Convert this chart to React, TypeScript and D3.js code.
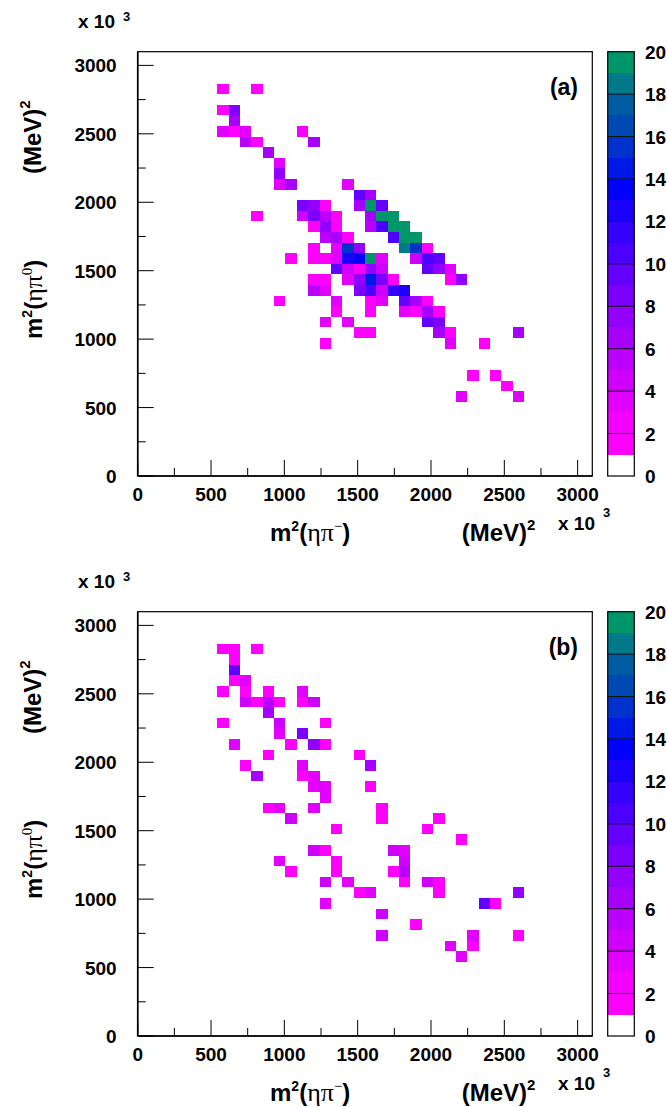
import React from 'react';
import * as d3 from 'd3';

// ---- axis definitions (units: 10^3 MeV^2) ----
const AXIS_MAX = 3100;
const BIN_WIDTH = 77.5; // 40 bins over 0..3100
const Z_MAX = 20;
const MAJOR_TICKS = [0, 500, 1000, 1500, 2000, 2500, 3000];
const MINOR_TICKS = [250, 750, 1250, 1750, 2250, 2750];
const Z_TICKS = [0, 2, 4, 6, 8, 10, 12, 14, 16, 18, 20];
const Z_LINES = [2, 4, 6, 8, 10, 12, 14, 16, 18];

// palette bands 0..19 (band 0 = empty)
const BAND_COLORS = [
  '#ffffff', '#ff00ff', '#f400ff', '#e200ff', '#d000ff',
  '#bc00ff', '#a800ff', '#9400ff', '#7c00ff', '#6400ff',
  '#4c00ff', '#3400ff', '#1c00ff', '#0000ff', '#0018e6',
  '#0032cc', '#0048b4', '#005ca0', '#007a8a', '#00966a',
];

// ---- histogram contents: [x bin, y bin, entries] ----
const cellsA: [number, number, number][] = [
  [7, 36, 1], [10, 36, 1],
  [7, 34, 1], [8, 34, 8],
  [8, 33, 6],
  [7, 32, 3], [8, 32, 1], [9, 32, 3], [14, 32, 2],
  [9, 31, 5], [10, 31, 1], [15, 31, 6],
  [11, 30, 6],
  [12, 29, 3],
  [12, 28, 7],
  [12, 27, 3], [13, 27, 6], [18, 27, 3],
  [19, 26, 9], [20, 26, 6],
  [14, 25, 8], [15, 25, 7], [16, 25, 1], [19, 25, 6], [20, 25, 20], [21, 25, 9],
  [10, 24, 1], [14, 24, 4], [15, 24, 8], [16, 24, 5], [17, 24, 1], [20, 24, 6], [21, 24, 20], [22, 24, 20],
  [15, 23, 1], [16, 23, 7], [17, 23, 1], [20, 23, 5], [21, 23, 10], [22, 23, 20], [23, 23, 20],
  [16, 22, 5], [17, 22, 6], [18, 22, 1], [22, 22, 10], [23, 22, 20], [24, 22, 20],
  [15, 21, 1], [17, 21, 3], [18, 21, 15], [19, 21, 7], [23, 21, 18], [24, 21, 15], [25, 21, 1],
  [13, 20, 1], [15, 20, 1], [16, 20, 1], [17, 20, 3], [18, 20, 12], [19, 20, 13], [20, 20, 20], [21, 20, 3], [24, 20, 4], [25, 20, 10], [26, 20, 9],
  [17, 19, 9], [18, 19, 4], [19, 19, 1], [20, 19, 7], [21, 19, 4], [25, 19, 9], [26, 19, 7], [27, 19, 3],
  [15, 18, 1], [16, 18, 1], [18, 18, 3], [19, 18, 7], [20, 18, 14], [21, 18, 8], [22, 18, 1], [27, 18, 1], [28, 18, 7],
  [15, 17, 5], [16, 17, 3], [19, 17, 8], [20, 17, 10], [21, 17, 4], [22, 17, 11], [23, 17, 12],
  [12, 16, 1], [17, 16, 3], [20, 16, 1], [21, 16, 3], [23, 16, 9], [24, 16, 6], [25, 16, 1],
  [17, 15, 1], [20, 15, 1], [23, 15, 3], [24, 15, 1], [25, 15, 6], [26, 15, 1],
  [16, 14, 3], [18, 14, 3], [25, 14, 9], [26, 14, 8],
  [19, 13, 1], [20, 13, 1], [26, 13, 6], [27, 13, 1], [33, 13, 6],
  [16, 12, 1], [27, 12, 3], [30, 12, 1],
  [29, 9, 1], [31, 9, 1],
  [32, 8, 1],
  [28, 7, 3], [33, 7, 3],
];

const cellsB: [number, number, number][] = [
  [7, 36, 1], [8, 36, 1], [10, 36, 1],
  [8, 35, 1],
  [8, 34, 9],
  [8, 33, 1], [9, 33, 3],
  [7, 32, 1], [9, 32, 1], [11, 32, 1], [14, 32, 3],
  [9, 31, 4], [10, 31, 1], [11, 31, 5], [12, 31, 1], [14, 31, 1], [15, 31, 4],
  [11, 30, 6],
  [7, 29, 1], [12, 29, 4], [16, 29, 1],
  [12, 28, 3], [14, 28, 8],
  [8, 27, 3], [13, 27, 1], [15, 27, 7], [16, 27, 1],
  [11, 26, 1], [19, 26, 1],
  [9, 25, 1], [14, 25, 3], [20, 25, 6],
  [10, 24, 6], [14, 24, 1], [15, 24, 3],
  [15, 23, 3], [16, 23, 3], [20, 23, 1],
  [16, 22, 3],
  [11, 21, 1], [12, 21, 3], [15, 21, 3], [21, 21, 1],
  [13, 20, 4], [21, 20, 1], [26, 20, 1],
  [17, 19, 1], [25, 19, 1],
  [28, 18, 1],
  [15, 17, 4], [16, 17, 1], [22, 17, 4], [23, 17, 3],
  [12, 16, 3], [17, 16, 1], [23, 16, 4],
  [13, 15, 1], [17, 15, 1], [22, 15, 1], [23, 15, 5],
  [16, 14, 4], [18, 14, 3], [23, 14, 1], [25, 14, 4], [26, 14, 1],
  [19, 13, 1], [20, 13, 3], [26, 13, 1], [33, 13, 7],
  [16, 12, 3], [30, 12, 9], [31, 12, 1],
  [21, 11, 4],
  [24, 10, 1],
  [21, 9, 4], [29, 9, 3], [33, 9, 1],
  [27, 8, 3], [29, 8, 1],
  [28, 7, 3],
];

const SANS = '"Liberation Sans", Arial, Helvetica, sans-serif';
const SERIF = '"Liberation Serif", "Times New Roman", serif';

const L = 137.7, R = 592.3, T = 51.7, B = 476;
const CB_L = 607.7, CB_R = 634.3;

const xScale = d3.scaleLinear().domain([0, AXIS_MAX]).range([L, R]);
const yScale = d3.scaleLinear().domain([0, AXIS_MAX]).range([B, T]);
const zScale = d3.scaleLinear().domain([0, Z_MAX]).range([B, T]);
const colorScale = d3.scaleQuantize<string>().domain([0, Z_MAX]).range(BAND_COLORS);

function Panel({ cells, label, dy }: { cells: [number, number, number][]; label: string; dy: number }) {
  const bands = d3.range(0, Z_MAX);
  return (
    <g transform={`translate(0,${dy})`}>
      {/* cells */}
      <g shapeRendering="crispEdges">
        {cells.map(([ix, iy, n], i) => {
          const x0 = xScale(ix * BIN_WIDTH), x1 = xScale((ix + 1) * BIN_WIDTH);
          const y0 = yScale((iy + 1) * BIN_WIDTH), y1 = yScale(iy * BIN_WIDTH);
          return <rect key={i} x={x0} y={y0} width={x1 - x0} height={y1 - y0} fill={colorScale(n)} />;
        })}
      </g>
      {/* frame */}
      <rect x={L} y={T} width={R - L} height={B - T} fill="none" stroke="#000" strokeWidth={1.2} />
      <line x1={L} x2={L} y1={T} y2={B} stroke="#000" strokeWidth={1.6} />
      <line x1={L} x2={R} y1={B} y2={B} stroke="#000" strokeWidth={1.6} />
      {/* x ticks */}
      {MAJOR_TICKS.map((v) => (
        <line key={'xm' + v} x1={xScale(v)} x2={xScale(v)} y1={B} y2={B - 16} stroke="#000" strokeWidth={1} />
      ))}
      {MINOR_TICKS.map((v) => (
        <line key={'xn' + v} x1={xScale(v)} x2={xScale(v)} y1={B} y2={B - 8} stroke="#000" strokeWidth={1} />
      ))}
      {/* y ticks */}
      {MAJOR_TICKS.map((v) => (
        <line key={'ym' + v} x1={L} x2={L + 16} y1={yScale(v)} y2={yScale(v)} stroke="#000" strokeWidth={1} />
      ))}
      {MINOR_TICKS.map((v) => (
        <line key={'yn' + v} x1={L} x2={L + 8} y1={yScale(v)} y2={yScale(v)} stroke="#000" strokeWidth={1} />
      ))}
      {/* tick labels */}
      <g fontFamily={SANS} fontWeight="bold" fontSize={19} fill="#000">
        {MAJOR_TICKS.map((v) => (
          <text key={'xl' + v} x={xScale(v)} y={501} textAnchor="middle">{v}</text>
        ))}
        {MAJOR_TICKS.map((v) => (
          <text key={'yl' + v} x={116.7} y={yScale(v) + 7} textAnchor="end">{v}</text>
        ))}
        {/* exponent labels */}
        <text x={78} y={28.3}>x 10</text>
        <text x={123} y={20.7} fontSize={13}>3</text>
        <text x={558} y={530}>x 10</text>
        <text x={603} y={516.7} fontSize={13}>3</text>
        {/* panel label */}
        <text x={578} y={95} textAnchor="end" fontSize={23}>{label}</text>
      </g>
      {/* x title */}
      <text x={270} y={541} fontFamily={SANS} fontWeight="bold" fontSize={24} fill="#000">
        m<tspan fontSize={14} dy={-10}>2</tspan>
        <tspan dy={10}>(</tspan>
        <tspan fontFamily={SERIF} fontWeight="normal" fontSize={26}>ηπ</tspan>
        <tspan fontSize={15} dy={-10} fontFamily={SERIF} fontWeight="normal">−</tspan>
        <tspan dy={10}>)</tspan>
      </text>
      <text x={461.7} y={541} fontFamily={SANS} fontWeight="bold" fontSize={24} fill="#000">
        (MeV)<tspan fontSize={15} dy={-11}>2</tspan>
      </text>
      {/* y title */}
      <g transform="translate(42,339) rotate(-90)">
        <text x={0} y={0} fontFamily={SANS} fontWeight="bold" fontSize={24} fill="#000">
          m<tspan fontSize={14} dy={-10}>2</tspan>
          <tspan dy={10}>(</tspan>
          <tspan fontFamily={SERIF} fontWeight="normal" fontSize={26}>ηπ</tspan>
          <tspan fontSize={15} dy={-10} fontFamily={SERIF} fontWeight="normal">0</tspan>
          <tspan dy={10}>)</tspan>
        </text>
      </g>
      <g transform="translate(41,174) rotate(-90)">
        <text x={0} y={0} fontFamily={SANS} fontWeight="bold" fontSize={24} fill="#000">
          (MeV)<tspan fontSize={15} dy={-11}>2</tspan>
        </text>
      </g>
      {/* colour bar */}
      <g shapeRendering="crispEdges">
        {bands.map((b) => (
          <rect key={'cb' + b} x={CB_L} width={CB_R - CB_L} y={zScale(b + 1)} height={zScale(b) - zScale(b + 1)} fill={BAND_COLORS[b]} />
        ))}
      </g>
      {Z_LINES.map((v) => (
        <line key={'zl' + v} x1={CB_L} x2={CB_R} y1={zScale(v)} y2={zScale(v)} stroke="#111" strokeWidth={1} />
      ))}
      <rect x={CB_L} y={T} width={CB_R - CB_L} height={B - T} fill="none" stroke="#000" strokeWidth={1.2} />
      <g fontFamily={SANS} fontWeight="bold" fontSize={19} fill="#000">
        {Z_TICKS.map((v) => (
          <text key={'zt' + v} x={645} y={zScale(v) + 7}>{v}</text>
        ))}
      </g>
    </g>
  );
}

export default function App() {
  return (
    <svg width={667} height={1107} style={{ position: 'absolute', left: 0, top: 0, background: '#fff' }}>
      <rect x={0} y={0} width={667} height={1107} fill="#fff" />
      <Panel cells={cellsA} label="(a)" dy={0} />
      <Panel cells={cellsB} label="(b)" dy={560} />
    </svg>
  );
}
